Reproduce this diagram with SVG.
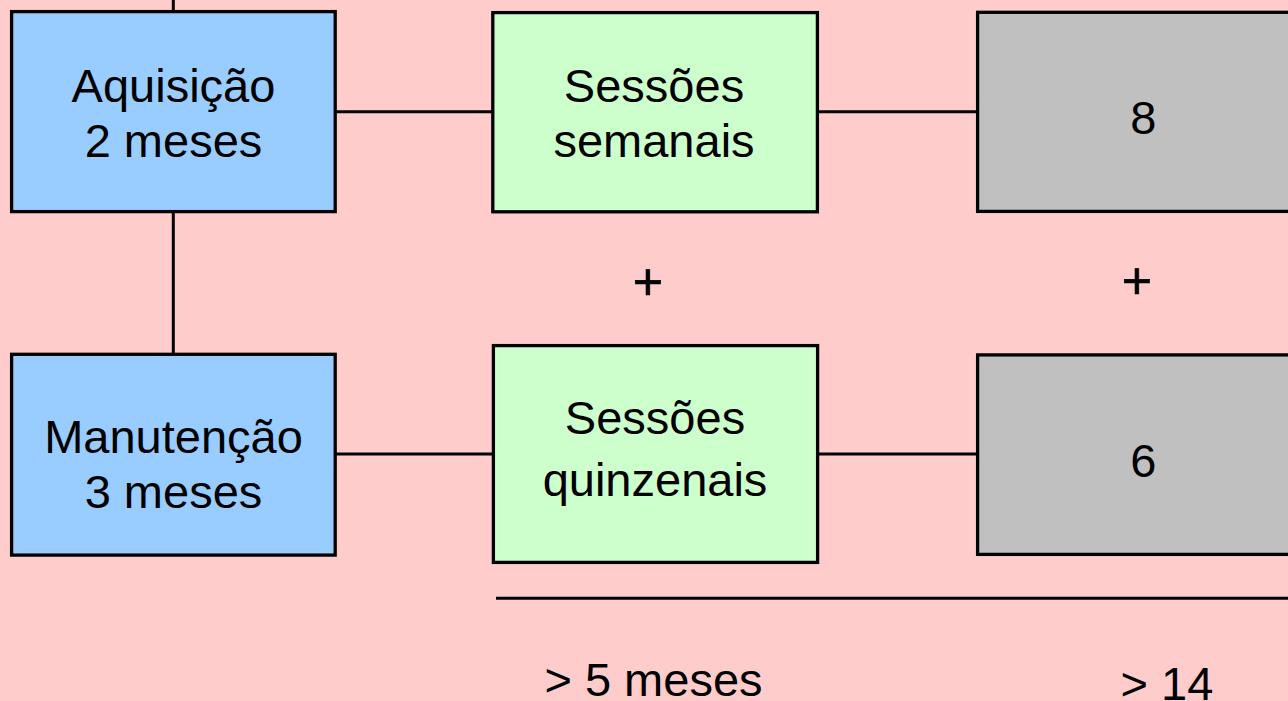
<svg xmlns="http://www.w3.org/2000/svg" width="1288" height="701" viewBox="0 0 1288 701">
  <style>
    .box { stroke: #000; stroke-width: 3.3; }
    .phase { fill: #99CCFF; }
    .session { fill: #CCFFCC; }
    .count { fill: #C0C0C0; }
    .label { font-family: "Liberation Sans", Arial, sans-serif; font-size: 47px; fill: #000; text-anchor: middle; }
    .plus { font-size: 52px; stroke: #000; stroke-width: 0.7; }
    .link { stroke: #000; stroke-width: 3; fill: none; }
  </style>

  <!-- background -->
  <rect x="0" y="0" width="1288" height="701" fill="#FFCCCC"/>

  <!-- connectors -->
  <g id="connectors">
    <line class="link" x1="173.3" y1="0" x2="173.3" y2="12"/>
    <line class="link" x1="173.3" y1="212" x2="173.3" y2="354"/>
    <line class="link" x1="336" y1="111.7" x2="493" y2="111.7"/>
    <line class="link" x1="818" y1="111.7" x2="978" y2="111.7"/>
    <line class="link" x1="336" y1="454" x2="493" y2="454"/>
    <line class="link" x1="818" y1="454" x2="978" y2="454"/>
    <line class="link" x1="496" y1="598.3" x2="1288" y2="598.3" stroke-width="3.8"/>
  </g>

  <!-- phases -->
  <g id="aquisicao">
    <rect class="box phase" x="11.6" y="11.6" width="323.6" height="200"/>
    <text class="label" x="173.5" y="101.7">Aquisição</text>
    <text class="label" x="173.5" y="156.7">2 meses</text>
  </g>
  <g id="manutencao">
    <rect class="box phase" x="11.6" y="354.3" width="323.6" height="200.8"/>
    <text class="label" x="173.5" y="452.7">Manutenção</text>
    <text class="label" x="173.5" y="508.3">3 meses</text>
  </g>

  <!-- session frequency -->
  <g id="sessoes-semanais">
    <rect class="box session" x="492.8" y="12.6" width="324.6" height="199.2"/>
    <text class="label" x="654" y="101.7">Sessões</text>
    <text class="label" x="654" y="156.7">semanais</text>
  </g>
  <g id="sessoes-quinzenais">
    <rect class="box session" x="493.4" y="345.6" width="324.2" height="216.8"/>
    <text class="label" x="655" y="434">Sessões</text>
    <text class="label" x="655" y="495.7">quinzenais</text>
  </g>

  <!-- session counts -->
  <g id="sessoes-8">
    <rect class="box count" x="977.6" y="12.3" width="330" height="199.1"/>
    <text class="label" x="1143.3" y="134.3">8</text>
  </g>
  <g id="sessoes-6">
    <rect class="box count" x="977.6" y="354.9" width="330" height="199.5"/>
    <text class="label" x="1143.3" y="476.7">6</text>
  </g>

  <!-- sums -->
  <g id="somas">
    <text class="label plus" x="648" y="300.4">+</text>
    <text class="label plus" x="1137" y="298.7">+</text>
    <text class="label" x="653.5" y="696">&gt; 5 meses</text>
    <text class="label" x="1167" y="700">&gt; 14</text>
  </g>
</svg>
